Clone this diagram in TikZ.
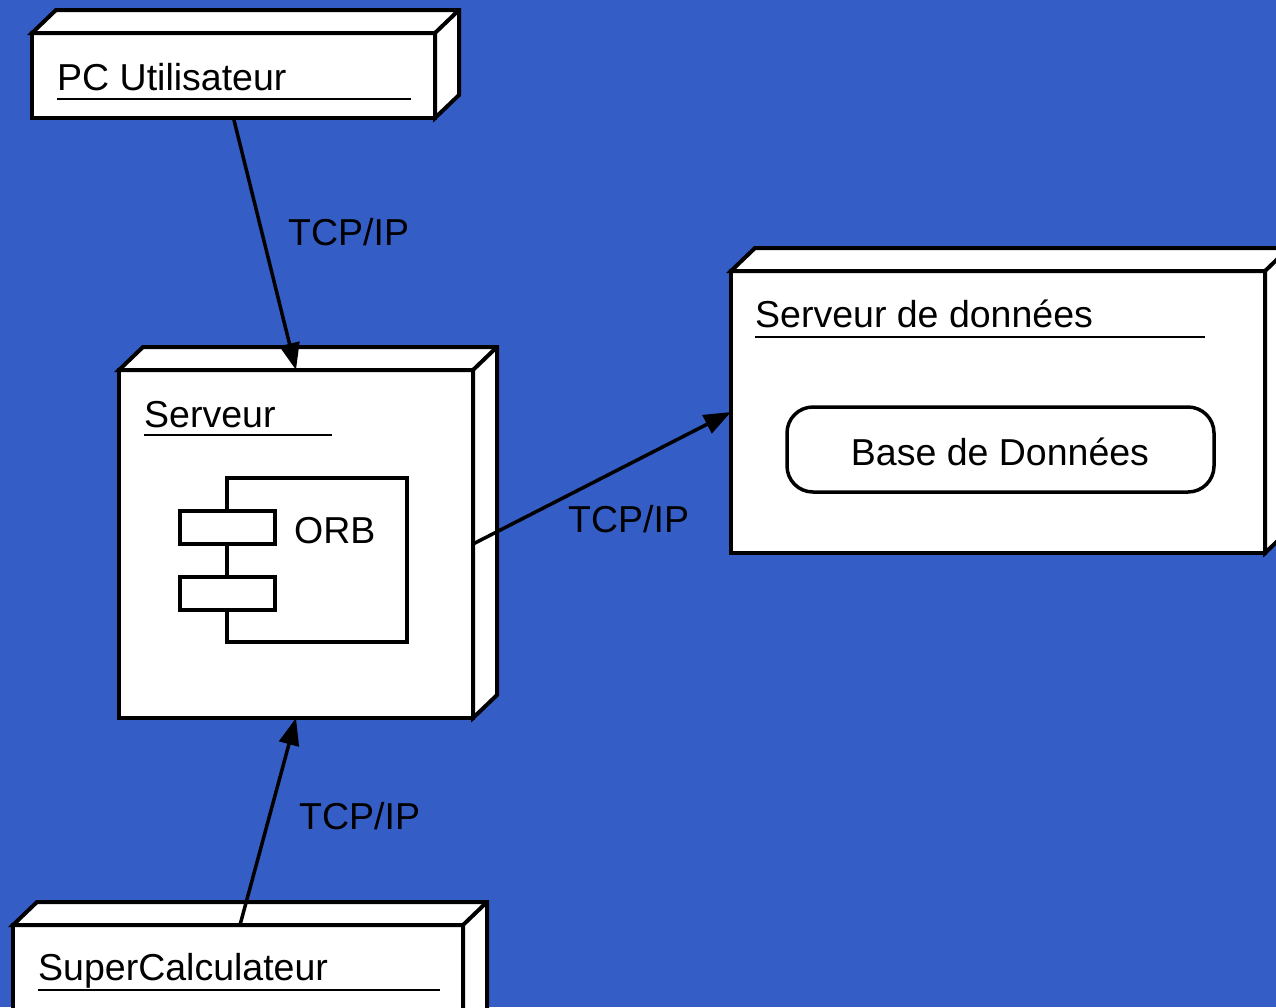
\documentclass[tikz,border=0pt]{standalone}
\usepackage{fontspec}
\setmainfont{Liberation Sans}
\usetikzlibrary{calc,arrows.meta}
\definecolor{bgblue}{RGB}{52,93,197}
\tikzset{
  devbox/.style={draw=black, fill=white, line width=4pt, rectangle, inner sep=0pt, outer sep=0pt, anchor=north west},
  face/.style={draw=black, fill=white, line width=4pt, line join=miter},
  title/.style={anchor=base west, inner sep=0pt, font=\fontsize{37.5}{44}\selectfont},
  lbl/.style={anchor=base west, inner sep=0pt, font=\fontsize{37.5}{44}\selectfont},
  uline/.style={draw=black, line width=2pt},
  conn/.style={draw=black, line width=3.5pt, -{Triangle[length=27pt,width=20pt]}},
  comp/.style={draw=black, fill=white, line width=3.5pt, rectangle, inner sep=0pt, outer sep=0pt, anchor=north west},
  dbbox/.style={draw=black, fill=white, line width=3.5pt, rounded corners=26pt, rectangle, inner sep=0pt, outer sep=0pt, anchor=north west}
}
% top and right faces of a 3D device box
\newcommand\depthfaces[1]{%
  \filldraw[face] (#1.north west) -- ++(24,-23) -- ($(#1.north east)+(24,-23)$)
    -- ($(#1.south east)+(24,-23)$) -- (#1.south east) -- (#1.north east) -- cycle
    (#1.north east) -- ++(24,-23);}
\begin{document}
\begin{tikzpicture}[x=1pt,y=-1pt]
\useasboundingbox (0,0) rectangle (1276,1007);
\clip (0,0) rectangle (1276,1007);
\fill[bgblue] (0,0) rectangle (1276,1007);

% PC Utilisateur
\node[devbox, minimum width=403pt, minimum height=85pt] (pc) at (32,33) {};
\depthfaces{pc}
\node[title] (pct) at (57,90) {PC Utilisateur};
\draw[uline] (57,99) -- (411,99);

% Serveur
\node[devbox, minimum width=354pt, minimum height=348pt] (srv) at (119,370) {};
\depthfaces{srv}
\node[title] (srvt) at (144,427) {Serveur};
\draw[uline] (144,435) -- (332,435);
% ORB component
\node[comp, minimum width=180pt, minimum height=164pt] (orb) at (227,478) {};
\node[comp, minimum width=95pt, minimum height=33pt] (orba) at (180,511) {};
\node[comp, minimum width=95pt, minimum height=33pt] (orbb) at (180,577) {};
\node[lbl] (orbt) at (294,543) {ORB};

% Serveur de données
\node[devbox, minimum width=534pt, minimum height=282pt] (db) at (731,271) {};
\depthfaces{db}
\node[title] (dbt) at (755,327) {Serveur de données};
\draw[uline] (755,337) -- (1205,337);
\node[dbbox, minimum width=427pt, minimum height=85pt] (base) at (787,407) {};
\node[anchor=base, inner sep=0pt, font=\fontsize{37.5}{44}\selectfont] (baset) at (1000,465) {Base de Données};

% SuperCalculateur
\node[devbox, minimum width=450pt, minimum height=110pt] (sc) at (13,925) {};
\depthfaces{sc}
\node[title] (sct) at (38,980) {SuperCalculateur};
\draw[uline] (38,990) -- (440,990);

% connectors
\draw[conn] (pc.south) -- (srv.north);
\draw[conn] (srv.east) -- (db.west);
\draw[conn] ($(sc.north)+(2,0)$) -- (srv.south);
\node[lbl] (l1) at (288,245) {TCP/IP};
\node[lbl] (l2) at (568,532) {TCP/IP};
\node[lbl] (l3) at (299,829) {TCP/IP};
\end{tikzpicture}
\end{document}
